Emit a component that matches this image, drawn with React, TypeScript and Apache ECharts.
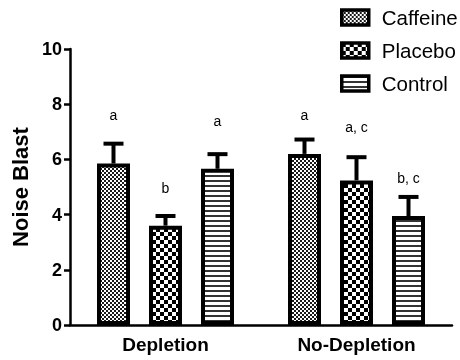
import React, { useEffect, useRef } from "react";
import * as echarts from "echarts";

const categories = ["Depletion", "No-Depletion"];
const seriesNames = ["Caffeine", "Placebo", "Control"];
const caffeineMeans = [5.85, 6.2];
const placeboMeans = [3.6, 5.24];
const controlMeans = [5.66, 3.95];
const caffeineUpper = [6.57, 6.72];
const placeboUpper = [3.95, 6.08];
const controlUpper = [6.19, 4.64];
const caffeineLetters = ["a", "a"];
const placeboLetters = ["b", "a, c"];
const controlLetters = ["a", "b, c"];
const caffeineLetterY = [7.6, 7.6];
const placeboLetterY = [4.96, 7.17];
const controlLetterY = [7.38, 5.32];
const yMin = 0;
const yMax = 10;
const yInterval = 2;

const BAR_W = 33;
const GAP_PX = 19;
const FONT = "'Liberation Sans', Arial, sans-serif";

function makePattern(kind: string) {
  const c = document.createElement("canvas");
  const ctx = c.getContext("2d")!;
  if (kind === "fine") {
    c.width = 4; c.height = 4;
    ctx.fillStyle = "#fff"; ctx.fillRect(0, 0, 4, 4);
    ctx.fillStyle = "#1a1a1a"; ctx.fillRect(0, 0, 2, 2); ctx.fillRect(2, 2, 2, 2);
  } else if (kind === "coarse") {
    c.width = 8; c.height = 8;
    ctx.fillStyle = "#fff"; ctx.fillRect(0, 0, 8, 8);
    ctx.fillStyle = "#000"; ctx.fillRect(0, 0, 4, 4); ctx.fillRect(4, 4, 4, 4);
  } else {
    c.width = 8; c.height = 5;
    ctx.fillStyle = "#fff"; ctx.fillRect(0, 0, 8, 5);
    ctx.fillStyle = "#333"; ctx.fillRect(0, 0, 8, 2);
  }
  return { image: c, repeat: "repeat", imageWidth: c.width, imageHeight: c.height } as any;
}

export default function App() {
  const ref = useRef<HTMLDivElement>(null);
  useEffect(() => {
    if (!ref.current) return;
    const chart = echarts.init(ref.current, undefined, { renderer: "svg" });
    const patterns = [makePattern("fine"), makePattern("coarse"), makePattern("stripe")];
    const means = [caffeineMeans, placeboMeans, controlMeans];
    const uppers = [caffeineUpper, placeboUpper, controlUpper];
    const letters = [caffeineLetters, placeboLetters, controlLetters];
    const letterY = [caffeineLetterY, placeboLetterY, controlLetterY];

    const errData: number[][] = [];
    const errLetters: string[] = [];
    for (let s = 0; s < 3; s++) {
      for (let c = 0; c < categories.length; c++) {
        errData.push([c, s, means[s][c], uppers[s][c], letterY[s][c]]);
        errLetters.push(letters[s][c]);
      }
    }

    const barSeries = seriesNames.map((name, s) => ({
      name,
      type: "bar",
      data: means[s],
      barWidth: BAR_W,
      barGap: (GAP_PX / BAR_W) * 100 + "%",
      itemStyle: { color: patterns[s], borderColor: "#000", borderWidth: 4 },
      z: 2,
    }));

    chart.setOption({
      animation: false,
      grid: { left: 70, right: 8, top: 49, bottom: 35 },
      legend: {
        data: seriesNames,
        orient: "vertical",
        left: 340,
        top: 7,
        padding: 0,
        itemWidth: 27,
        itemHeight: 15,
        itemGap: 12,
        icon: "rect",
        textStyle: { fontSize: 20.5, fontFamily: FONT, color: "#000", padding: [0, 0, 0, 8] },
        itemStyle: { borderColor: "#000", borderWidth: 3.5 },
      },
      xAxis: {
        type: "category",
        data: categories,
        axisLine: { lineStyle: { color: "#000", width: 2.5 } },
        axisTick: { alignWithLabel: true, length: 6, lineStyle: { color: "#000", width: 2.5 } },
        axisLabel: { fontSize: 19, fontWeight: "bold", fontFamily: FONT, color: "#000", margin: 10 },
      },
      yAxis: {
        type: "value",
        min: yMin,
        max: yMax,
        interval: yInterval,
        name: "Noise Blast",
        nameLocation: "middle",
        nameGap: 37,
        nameTextStyle: { fontSize: 22, fontWeight: "bold", fontFamily: FONT, color: "#000" },
        axisLine: { show: true, lineStyle: { color: "#000", width: 2.5 } },
        axisTick: { show: true, length: 6, lineStyle: { color: "#000", width: 2.5 } },
        splitLine: { show: false },
        axisLabel: { fontSize: 18, fontWeight: "bold", fontFamily: FONT, color: "#000", margin: 8 },
      },
      series: [
        ...barSeries,
        {
          type: "custom",
          z: 3,
          data: errData,
          renderItem: (params: any, api: any) => {
            const cat = api.value(0);
            const s = api.value(1);
            const base = api.coord([cat, api.value(2)]);
            const x = base[0] + (s - 1) * (BAR_W + GAP_PX);
            const yTop = base[1];
            const yUp = api.coord([cat, api.value(3)])[1];
            const yL = api.coord([cat, api.value(4)])[1];
            return {
              type: "group",
              children: [
                { type: "line", shape: { x1: x, y1: yTop, x2: x, y2: yUp }, style: { stroke: "#000", lineWidth: 4 } },
                { type: "line", shape: { x1: x - 10, y1: yUp, x2: x + 10, y2: yUp }, style: { stroke: "#000", lineWidth: 4 } },
                {
                  type: "text",
                  x,
                  y: yL,
                  style: {
                    text: errLetters[params.dataIndex],
                    fill: "#000",
                    fontSize: 14,
                    fontFamily: FONT,
                    align: "center",
                    verticalAlign: "middle",
                  },
                },
              ],
            };
          },
        },
      ],
    } as any);
    return () => chart.dispose();
  }, []);
  return <div ref={ref} style={{ position: "fixed", left: 0, top: 0, width: 460, height: 360 }} />;
}
